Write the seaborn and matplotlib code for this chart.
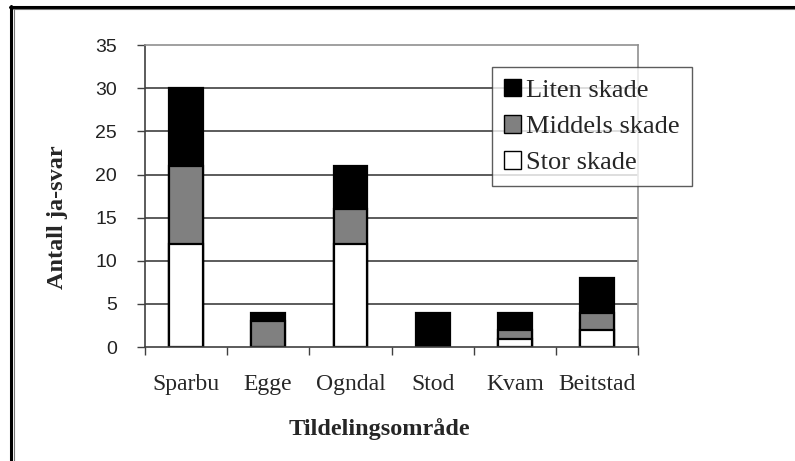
import matplotlib
matplotlib.use('Agg')
import matplotlib.pyplot as plt
import seaborn as sns
import pandas as pd
import numpy as np
from matplotlib.patches import Patch
from matplotlib.lines import Line2D

areas = ['Sparbu', 'Egge', 'Ogndal', 'Stod', 'Kvam', 'Beitstad']
stor = [12, 0, 12, 0, 1, 2]
middels = [9, 3, 4, 0, 1, 2]
liten = [9, 1, 5, 4, 2, 4]
yticks = [0, 5, 10, 15, 20, 25, 30, 35]

sns.set_style('white')
plt.rcParams['font.family'] = ['Liberation Serif', 'DejaVu Serif']

df = pd.DataFrame({'area': areas, 'stor': stor, 'middels': middels, 'liten': liten})
df['mid_top'] = df['stor'] + df['middels']
df['total'] = df['mid_top'] + df['liten']

W, H = 795, 461
fig = plt.figure(figsize=(W / 100, H / 100), dpi=100)
ax = fig.add_axes([0.182, 0.247, 0.621, 0.655])

for y in yticks[1:-1]:
    ax.axhline(y, color='#404040', lw=1.2, zorder=0)

kw = dict(edgecolor='black', linewidth=1.6, width=0.41, ax=ax, saturation=1)
sns.barplot(data=df, x='area', y='total', color='black', **kw)
sns.barplot(data=df, x='area', y='mid_top', color='#808080', **kw)
sns.barplot(data=df, x='area', y='stor', color='white', **kw)
for p in ax.patches:
    if p.get_height() == 0:
        p.set_linewidth(0)

ax.set_ylim(0, 35)
ax.set_xlim(-0.5, 5.5)
ax.set_yticks(yticks)
ax.set_yticklabels([str(t) for t in yticks], family='Liberation Sans', fontsize=14, color='#222222')
ax.set_xticks(range(len(areas)))
ax.set_xticklabels(areas, fontsize=17)
ax.set_xticks(np.arange(-0.5, 6, 1), minor=True)
ax.tick_params(axis='x', which='major', length=0, pad=19)
ax.tick_params(axis='x', which='minor', length=6, width=1, color='#404040', direction='out', bottom=True)
ax.tick_params(axis='y', length=6, width=1, color='#404040', direction='out', left=True, pad=14)

for side in ['left', 'bottom']:
    ax.spines[side].set_color('#404040')
    ax.spines[side].set_linewidth(1.2)
for side in ['right', 'top']:
    ax.spines[side].set_color('#909090')
    ax.spines[side].set_linewidth(1.2)

ax.set_xlabel('Tildelingsområde', fontsize=17.5, fontweight='bold')
ax.set_ylabel('Antall ja-svar', fontsize=17.5, fontweight='bold')
ax.xaxis.set_label_coords(0.475, -0.235)
ax.yaxis.set_label_coords(-0.156, 0.43)

handles = [Patch(facecolor='black', edgecolor='black', label='Liten skade'),
           Patch(facecolor='#808080', edgecolor='black', label='Middels skade'),
           Patch(facecolor='white', edgecolor='black', label='Stor skade')]
leg = fig.legend(handles=handles, loc='upper left', bbox_to_anchor=(492 / W, 1 - 67 / H),
                 frameon=True, fancybox=False, fontsize=19, handlelength=0.65,
                 handleheight=0.65, handletextpad=0.2, labelspacing=0.5,
                 borderpad=0.45, borderaxespad=0)
leg.get_frame().set_edgecolor('#333333')
leg.get_frame().set_linewidth(1.0)

# page frame (left and top only)
fig.add_artist(Line2D([11 / W, 11 / W], [0, 1 - 6 / H], transform=fig.transFigure, color='black', lw=2.2))
fig.add_artist(Line2D([10 / W, 1], [1 - 7 / H, 1 - 7 / H], transform=fig.transFigure, color='black', lw=2.2))
fig.add_artist(Line2D([13.5 / W, 13.5 / W], [0, 1 - 9 / H], transform=fig.transFigure, color='#777777', lw=0.8))
fig.add_artist(Line2D([13 / W, 1], [1 - 9.5 / H, 1 - 9.5 / H], transform=fig.transFigure, color='#777777', lw=0.8))

fig.savefig('out.png', dpi=100)
